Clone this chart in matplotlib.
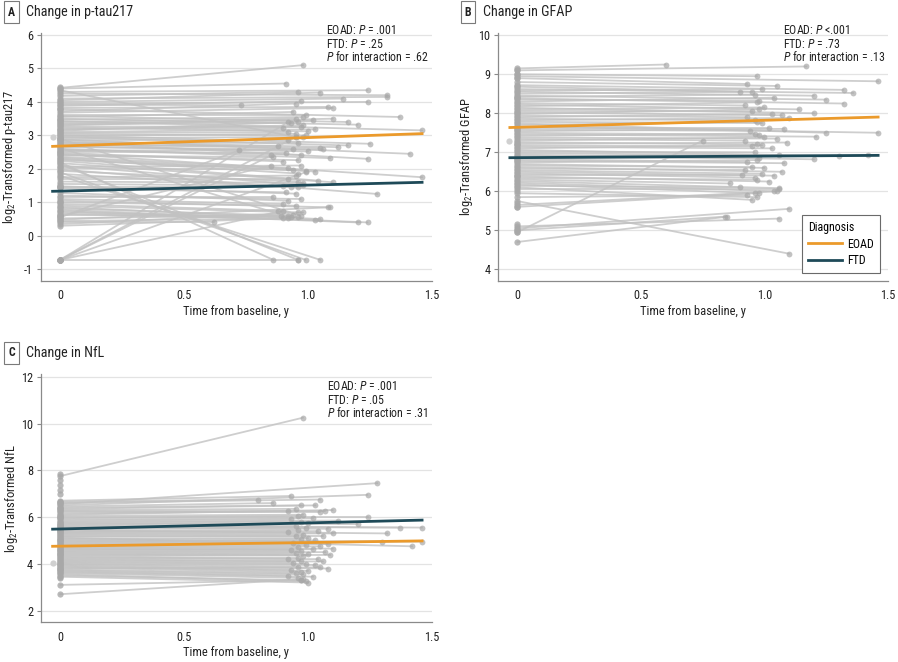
import matplotlib
matplotlib.use("Agg")
import matplotlib.pyplot as plt
from matplotlib import font_manager
import numpy as np

# ---------------- DATA ----------------
# Panel A: p-tau217 trajectories (baseline value, follow-up time, follow-up value)
a_y0 = [4.42, 4.40, 4.35, 4.30, 4.25, 4.18, 4.10, 4.05, 4.00, 3.95, 3.92, 3.88, 3.82, 3.78, 3.72, 3.68,
        3.62, 3.58, 3.55, 3.50, 3.47, 3.43, 3.40, 3.36, 3.33, 3.30, 3.27, 3.24, 3.20, 3.17, 3.14, 3.10, 3.07, 3.04,
        3.00, 2.98, 2.95, 2.92, 2.90, 2.88, 2.85, 2.82, 2.80, 2.77, 2.74, 2.71, 2.68, 2.65, 2.62, 2.60, 2.57, 2.54, 2.51,
        2.48, 2.45, 2.42, 2.40, 2.36, 2.33, 2.30, 2.27, 2.24, 2.20, 2.17, 2.14, 2.10, 2.06, 2.02,
        1.98, 1.94, 1.90, 1.85, 1.80, 1.75, 1.70, 1.62, 1.55, 1.48, 1.45, 1.42,
        1.28, 1.20, 1.15, 1.10, 1.05, 1.00, 0.95, 0.90, 0.86, 0.82, 0.78, 0.74, 0.70, 0.66, 0.62, 0.58, 0.55, 0.52,
        0.48, 0.44, 0.40, 0.35, 0.30,
        -0.72, -0.72, -0.72, -0.72, -0.72, -0.72]
a_t1 = [0.98, 0.91, 0.95, 1.24, 1.32, 0.96, 1.32, 1.05, 1.14, 1.24, 0.73, 0.97, 1.08, 1.37, 0.95, 1.10,
        0.99, 1.16, 0.94, 1.20, 0.98, 1.46, 0.95, 1.02, 0.93, 1.10, 0.97, 1.00, 0.90, 0.98, 0.96, 1.03, 0.92, 0.99,
        1.25, 0.95, 1.16, 0.98, 0.97, 1.41, 0.92, 1.12, 1.24, 0.96, 1.05, 0.88, 1.00, 0.94, 0.93, 1.09, 0.97, 1.06, 0.91,
        0.90, 1.46, 0.96, 0.86, 0.92, 1.03, 0.96, 0.99, 1.04, 0.86, 1.10, 0.96, 0.98, 0.97, 0.94,
        1.28, 0.96, 0.99, 0.93, 1.05, 0.95, 0.92, 0.98, 0.90, 0.95, 0.96, 0.91,
        0.92, 0.97, 0.86, 0.90, 1.09, 0.95, 0.88, 0.96, 1.05, 0.92, 1.24, 1.20, 0.96, 1.03, 0.89, 0.85, 0.72, 0.94,
        1.08, 0.92, 0.62, 0.98, 0.90,
        0.95, 0.85, 0.92, 0.99, 0.96, 0.90]
a_y1 = [5.10, 4.55, 2.95, 4.35, 4.20, 4.30, 4.15, 4.28, 4.10, 4.00, 3.90, 4.02, 3.85, 3.55, 3.95, 3.82,
        3.62, 3.40, 3.70, 3.32, 3.55, 3.15, 3.50, 3.45, 3.38, 3.50, 3.25, 3.12, 3.22, 3.30, 3.40, 3.18, 3.10, 3.00,
        2.75, 3.05, 2.70, 2.95, 0.60, 2.45, 2.85, 2.65, 2.30, 2.78, 2.62, 2.68, 2.52, 2.58, 0.55, 2.32, 2.42, 2.58, 2.48,
        2.22, 1.75, 2.26, 2.35, 2.02, 1.92, 1.86, 1.95, 1.65, -0.72, 1.60, -0.72, 1.52, 2.10, 1.98,
        1.25, 1.62, -0.72, 1.45, -0.72, 1.80, 1.70, 1.58, 1.50, 1.26, 1.45, 1.30,
        1.05, 1.10, 1.15, 0.95, 0.85, 0.90, 0.75, 0.70, 0.50, 0.60, 0.40, 0.40, 0.55, 0.48, 0.60, 2.10, 2.55, 0.62,
        0.85, 0.52, 0.40, 0.70, 0.52,
        2.95, 2.40, 3.40, 1.90, -0.72, 0.75]
a_single = [4.45, 4.00, 3.80, 3.50, 3.20, 2.90, 2.50, 1.50, 1.45, 1.00, 0.60, 0.50, -0.72]

# Panel B: GFAP trajectories
b_y0 = [9.15, 9.10, 9.00, 8.95, 8.90, 8.80, 8.72, 8.68, 8.62, 8.58, 8.55, 8.50, 8.45, 8.42, 8.38, 8.35, 8.30,
        8.26, 8.22, 8.18, 8.14, 8.10, 8.06, 8.02,
        7.98, 7.94, 7.90, 7.86, 7.82, 7.78, 7.74, 7.70, 7.66, 7.62, 7.58, 7.54, 7.50, 7.46, 7.42, 7.38, 7.34, 7.30,
        7.26, 7.22, 7.18, 7.14, 7.10, 7.06, 7.02, 6.98, 6.94, 6.90, 6.86, 6.82, 6.78, 6.74, 6.70, 6.66, 6.62, 6.58,
        6.54, 6.50, 6.46, 6.42, 6.38, 6.34, 6.30, 6.26, 6.22, 6.18, 6.14, 6.10, 6.05,
        5.95, 5.85, 5.75, 5.65, 5.60, 5.10, 5.05, 5.00, 4.95, 4.70]
b_t1 = [0.60, 1.17, 0.97, 1.46, 0.93, 1.05, 1.32, 0.95, 1.36, 0.99, 1.20, 0.90, 1.25, 0.96, 1.32, 0.98, 1.04,
        0.92, 1.14, 0.97, 1.20, 1.00, 0.95, 1.07,
        0.98, 0.93, 1.03, 0.96, 1.10, 0.99, 1.25, 0.97, 1.46, 1.02, 0.94, 1.08, 0.98, 1.21, 0.96, 1.05, 0.92, 1.00,
        0.97, 1.09, 0.95, 1.03, 0.99, 1.30, 0.96, 1.06, 1.20, 1.42, 0.98, 0.93, 1.08, 0.97, 1.00, 0.95, 1.07, 0.92,
        0.99, 1.04, 0.96, 0.91, 1.02, 0.97, 0.86, 1.06, 1.04, 0.98, 0.90, 0.95, 1.06,
        0.97, 0.93, 1.10, 1.05, 0.96, 1.06, 1.10, 0.84, 0.75, 0.85]
b_y1 = [9.25, 9.20, 8.95, 8.82, 8.75, 8.70, 8.60, 8.55, 8.52, 8.62, 8.45, 8.55, 8.35, 8.48, 8.25, 8.32, 8.40,
        8.20, 8.10, 8.28, 8.00, 8.15, 8.05, 7.95,
        8.10, 7.90, 7.98, 7.82, 7.88, 7.75, 7.50, 7.78, 7.50, 7.62, 7.55, 7.60, 7.45, 7.40, 7.48, 7.35, 7.30, 7.38,
        7.20, 7.25, 7.15, 7.10, 7.18, 6.90, 7.00, 6.92, 6.82, 6.92, 6.85, 6.75, 6.72, 6.80, 6.60, 6.62, 6.50, 6.55,
        6.45, 6.40, 6.35, 6.42, 6.25, 6.30, 6.20, 6.08, 6.00, 5.95, 6.10, 5.78, 6.05,
        5.85, 5.90, 4.40, 6.00, 5.95, 5.30, 5.55, 5.35, 7.30, 5.35]
b_single = [9.10, 9.00, 8.90, 8.70, 8.40, 8.00, 7.60, 7.20, 6.80, 6.40, 6.00, 5.70, 5.60, 5.15, 5.00, 4.95]

# Panel C: NfL trajectories
c_y0 = [7.75, 6.70, 6.65, 6.60, 6.55, 6.50, 6.45, 6.40, 6.35, 6.30, 6.25, 6.20, 6.15, 6.10, 6.05, 6.00, 5.95,
        5.90, 5.85, 5.80, 5.76, 5.72, 5.68, 5.64, 5.60, 5.56, 5.52, 5.48, 5.44, 5.40, 5.36, 5.32, 5.28, 5.24,
        5.20, 5.16, 5.12, 5.08, 5.04, 5.00, 4.96, 4.92, 4.88, 4.84, 4.80, 4.76, 4.72, 4.68, 4.64, 4.60, 4.56,
        4.52, 4.48, 4.44, 4.40, 4.36, 4.32, 4.28, 4.24, 4.20, 4.16, 4.12, 4.08, 4.04, 4.00, 3.96, 3.92, 3.88,
        3.84, 3.80, 3.76, 3.72, 3.68, 3.64, 3.60, 3.55, 3.50, 3.45, 3.10, 2.70]
c_t1 = [0.98, 0.93, 0.80, 1.05, 1.28, 1.24, 0.86, 0.97, 1.03, 0.95, 1.07, 1.05, 0.92, 1.10, 0.98, 1.24, 0.96,
        1.02, 0.93, 1.12, 0.97, 1.20, 1.00, 1.46, 1.37, 0.95, 1.08, 0.99, 1.32, 0.96, 1.04, 0.92, 1.10, 0.98,
        1.06, 0.95, 1.42, 1.00, 0.97, 1.46, 1.03, 1.30, 0.94, 1.08, 0.99, 1.05, 0.96, 1.10, 0.93, 1.02, 0.97,
        1.07, 0.95, 1.00, 0.98, 1.09, 0.96, 0.92, 1.04, 0.97, 1.06, 0.94, 0.99, 1.03, 0.96, 1.08, 0.93, 1.00,
        0.97, 1.05, 0.95, 0.98, 0.92, 1.02, 0.96, 0.99, 0.97, 1.00, 0.97, 0.98]
c_y1 = [10.25, 6.90, 6.75, 6.75, 7.45, 6.95, 6.60, 6.50, 6.50, 6.35, 6.25, 6.20, 6.25, 6.30, 6.10, 6.00, 6.05,
        5.95, 5.90, 5.85, 5.80, 5.70, 5.75, 5.55, 5.55, 5.62, 5.50, 5.55, 5.30, 5.45, 5.40, 5.35, 5.30, 5.25,
        5.20, 5.18, 4.75, 5.10, 5.05, 4.95, 5.00, 4.95, 4.90, 4.85, 4.80, 4.75, 4.70, 4.65, 4.60, 4.62, 4.55,
        4.50, 4.45, 4.40, 4.35, 4.38, 4.25, 4.22, 4.20, 4.12, 4.10, 4.05, 4.00, 3.95, 3.88, 3.80, 3.75, 3.70,
        3.65, 3.85, 3.60, 3.55, 3.50, 3.45, 3.40, 3.25, 3.30, 3.20, 3.30, 3.35]
c_single = [7.85, 7.60, 7.35, 7.15, 7.00, 6.65, 6.40, 6.00, 5.40, 4.60, 4.00, 3.40]

# Extra baseline points recorded slightly before time 0 (time, value)
pre_points = {"A": (-0.03, 2.95), "B": (-0.035, 7.30), "C": (-0.03, 4.05)}

# Model fits: intercept, slope per diagnosis
diagnoses = ["EOAD", "FTD"]
fit_a = {"EOAD": (2.68, 0.255), "FTD": (1.335, 0.18)}
fit_b = {"EOAD": (7.64, 0.18), "FTD": (6.862, 0.04)}
fit_c = {"EOAD": (4.755, 0.155), "FTD": (5.49, 0.26)}
fit_x = [-0.03, 1.46]

titles = ["Change in p-tau217", "Change in GFAP", "Change in NfL"]
ylabels = [r"log$_2$-Transformed p-tau217", r"log$_2$-Transformed GFAP", r"log$_2$-Transformed NfL"]
stats = [["EOAD: $P$ = .001", "FTD: $P$ = .25", "$P$ for interaction = .62"],
         ["EOAD: $P$ <.001", "FTD: $P$ = .73", "$P$ for interaction = .13"],
         ["EOAD: $P$ = .001", "FTD: $P$ = .05", "$P$ for interaction = .31"]]
xticks = [0, 0.5, 1.0, 1.5]
xticklabels = ["0", "0.5", "1.0", "1.5"]
yticks = [[-1, 0, 1, 2, 3, 4, 5, 6], [4, 5, 6, 7, 8, 9, 10], [2, 4, 6, 8, 10, 12]]

# ---------------- STYLE ----------------
ttf = font_manager.fontManager.ttflist
names = {f.name for f in ttf}
def has_cond(name):
    return any(f.name == name and str(f.stretch) in ("condensed", "semi-condensed", "extra-condensed", "75", "87")
               for f in ttf)

stretch = "normal"
if "Liberation Sans Narrow" in names:
    fam = "Liberation Sans Narrow"
elif "Roboto Condensed" in names:
    fam = "Roboto Condensed"
elif has_cond("DejaVu Sans"):
    fam, stretch = "DejaVu Sans", "condensed"
elif has_cond("Noto Sans"):
    fam, stretch = "Noto Sans", "condensed"
elif has_cond("Open Sans"):
    fam, stretch = "Open Sans", "condensed"
else:
    fam = "Liberation Sans"
narrow = (fam != "Liberation Sans")
scale = 1.0 if narrow else 0.86

plt.rcParams["font.family"] = [fam, "DejaVu Sans"]
plt.rcParams["font.stretch"] = stretch
plt.rcParams["axes.unicode_minus"] = False
plt.rcParams["mathtext.fontset"] = "custom"
sfx = "" if stretch == "normal" else ":stretch=" + stretch
plt.rcParams["mathtext.rm"] = fam + sfx
plt.rcParams["mathtext.it"] = fam + ":italic" + sfx
plt.rcParams["mathtext.bf"] = fam + ":bold" + sfx

C_EOAD = "#EB9A2B"
C_FTD = "#1E4A58"
C_LINE = "#C2C2C2"
C_PT = "#A8A8A8"
C_AXIS = "#8A8A8A"
C_GRID = "#E3E3E3"
C_TXT = "#222222"

W, H = 898, 662
fig = plt.figure(figsize=(W / 100, H / 100), dpi=100)

def px_axes(l, r, t, b):
    return fig.add_axes([l / W, 1 - b / H, (r - l) / W, (b - t) / H])

axA = px_axes(40.7, 432, 33.3, 281)
axB = px_axes(498, 888, 33.3, 281)
axC = px_axes(40.7, 432, 374.4, 622.3)

panels = [
    (axA, a_y0, a_t1, a_y1, a_single, fit_a, (-1.35, 6.05), pre_points["A"], -0.0785, -0.124),
    (axB, b_y0, b_t1, b_y1, b_single, fit_b, (3.70, 10.05), pre_points["B"], -0.081, -0.124),
    (axC, c_y0, c_t1, c_y1, c_single, fit_c, (1.50, 12.10), pre_points["C"], -0.074, -0.123),
]

for i, (ax, y0, t1, y1, single, fit, ylim, pre, ylx, xly) in enumerate(panels):
    ax.set_xlim(-0.078, 1.5)
    ax.set_ylim(*ylim)
    ax.set_yticks(yticks[i])
    ax.set_xticks(xticks)
    ax.set_xticklabels(xticklabels)
    ax.grid(axis="y", color=C_GRID, lw=0.9)
    ax.set_axisbelow(True)
    for s in ["top", "right"]:
        ax.spines[s].set_visible(False)
    for s in ["left", "bottom"]:
        ax.spines[s].set_color(C_AXIS)
        ax.spines[s].set_linewidth(0.9)
    ax.tick_params(axis="both", colors=C_AXIS, labelcolor=C_TXT, labelsize=8.8 * scale, length=3, width=0.8)
    ax.tick_params(axis="x", length=0, pad=6)
    ax.tick_params(axis="y", pad=2.5)

    for a0, tt, a1 in zip(y0, t1, y1):
        ax.plot([0, tt], [a0, a1], color=C_LINE, lw=1.3, alpha=0.8, zorder=2,
                solid_capstyle="round")
    ax.plot(np.zeros(len(y0)), y0, "o", ms=4.5, color=C_PT, alpha=0.8, mec="none", zorder=3)
    ax.plot(t1, y1, "o", ms=4.2, color=C_PT, alpha=0.7, mec="none", zorder=3)
    ax.plot(np.zeros(len(single)), single, "o", ms=4.5, color=C_PT, alpha=0.8, mec="none", zorder=3)
    ax.plot([pre[0]], [pre[1]], "o", ms=4.5, color="#D0D0D0", mec="none", zorder=3)

    xs = np.array(fit_x)
    for d, col in zip(diagnoses, [C_EOAD, C_FTD]):
        b0, b1 = fit[d]
        ax.plot(xs, b0 + b1 * xs, color=col, lw=2.0, zorder=5, label=d)

    ax.set_xlabel("Time from baseline, y", fontsize=9 * scale, color=C_TXT)
    ax.set_ylabel(ylabels[i], fontsize=9 * scale, color=C_TXT)
    ax.xaxis.label.set_va("center")
    ax.yaxis.label.set_va("center")
    ax.xaxis.set_label_coords(0.5, xly)
    ax.yaxis.set_label_coords(ylx, 0.5)

# Panel labels and titles
labels = ["A", "B", "C"]
label_pos = [(11.5, 12), (468, 12), (11.5, 353)]
title_pos = [(26, 12), (483, 12), (26, 353)]
for lab, (lx, ly), (tx, ty), ttl in zip(labels, label_pos, title_pos, titles):
    fig.text(lx / W, 1 - ly / H, lab, ha="center", va="center", fontsize=8.5 * scale, fontweight="bold",
             color=C_TXT,
             bbox=dict(boxstyle="square,pad=0.35", fc="white", ec="#7A7A7A", lw=0.8))
    fig.text(tx / W, 1 - ty / H, ttl, ha="left", va="center", fontsize=10.2 * scale, color=C_TXT)

# Stats annotations
stat_pos = [(326, 30.7), (783, 30.7), (327, 386.7)]
for (sx, sy), lines in zip(stat_pos, stats):
    for k, s in enumerate(lines):
        fig.text(sx / W, 1 - (sy + 13.3 * k) / H, s, ha="left", va="center", fontsize=8.6 * scale, color=C_TXT)

# Legend in panel B
leg = axB.legend(title="Diagnosis", loc="lower right", bbox_to_anchor=(0.979, 0.032),
                 borderaxespad=0, frameon=True, fancybox=False, fontsize=8.6 * scale,
                 title_fontsize=8.6 * scale,
                 handlelength=2.9, borderpad=0.5, labelspacing=0.3, handletextpad=0.4)
leg._legend_box.align = "left"
leg.get_frame().set_edgecolor("#6A6A6A")
leg.get_frame().set_linewidth(0.8)
leg.get_frame().set_alpha(1)

fig.savefig("out.png", dpi=100)
